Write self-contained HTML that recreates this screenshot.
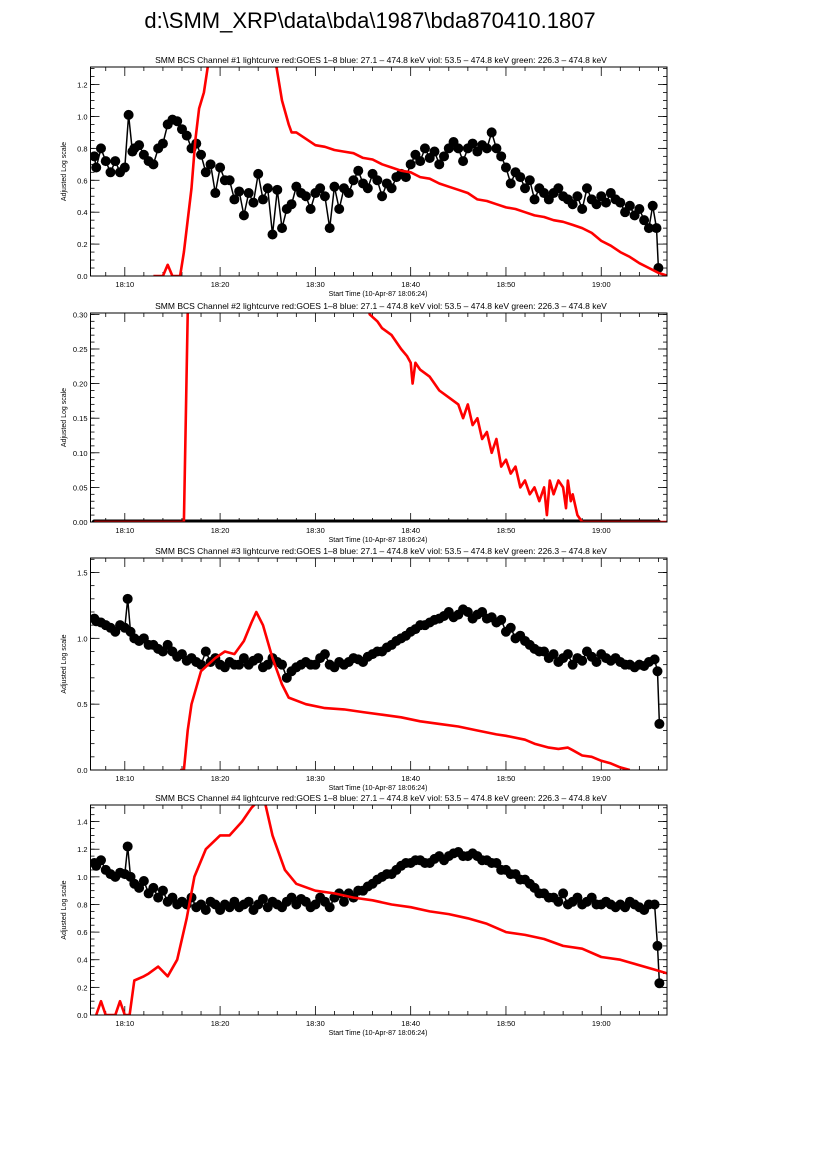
<!DOCTYPE html>
<html><head><meta charset="utf-8"><style>
body{margin:0;background:#fff;}
svg{display:block;font-family:"Liberation Sans",sans-serif;}
</style></head><body>
<svg id="c" width="826" height="1169" viewBox="0 0 826 1169">
<text x="370" y="28" font-size="22" text-anchor="middle">d:\SMM_XRP\data\bda\1987\bda870410.1807</text>
</svg>
<script>
// time axis in minutes after 18:00
const xTickMinutes=[10,20,30,40,50,60];
const xTickLabels=["18:10","18:20","18:30","18:40","18:50","19:00"];

const p1BlackT=[6.8,7,7.5,8,8.5,9,9.5,10,10.4,10.8,11,11.5,12,12.5,13,13.5,14,14.5,15,15.5,16,16.5,17,17.5,18,18.5,19,19.5,20,20.5,21,21.5,22,22.5,23,23.5,24,24.5,25,25.5,26,26.5,27,27.5,28,28.5,29,29.5,30,30.5,31,31.5,32,32.5,33,33.5,34,34.5,35,35.5,36,36.5,37,37.5,38,38.5,39,39.5,40,40.5,41,41.5,42,42.5,43,43.5,44,44.5,45,45.5,46,46.5,47,47.5,48,48.5,49,49.5,50,50.5,51,51.5,52,52.5,53,53.5,54,54.5,55,55.5,56,56.5,57,57.5,58,58.5,59,59.5,60,60.5,61,61.5,62,62.5,63,63.5,64,64.5,65,65.4,65.8,66];
const p1BlackV=[0.75,0.68,0.80,0.72,0.65,0.72,0.65,0.68,1.01,0.78,0.80,0.82,0.76,0.72,0.70,0.80,0.83,0.95,0.98,0.97,0.92,0.88,0.80,0.83,0.76,0.65,0.70,0.52,0.68,0.60,0.60,0.48,0.53,0.38,0.52,0.46,0.64,0.48,0.55,0.26,0.54,0.30,0.42,0.45,0.56,0.52,0.50,0.42,0.52,0.55,0.50,0.30,0.56,0.42,0.55,0.52,0.60,0.66,0.58,0.55,0.64,0.60,0.50,0.58,0.55,0.62,0.64,0.62,0.70,0.76,0.72,0.80,0.74,0.78,0.70,0.75,0.80,0.84,0.80,0.72,0.80,0.83,0.78,0.82,0.80,0.90,0.80,0.75,0.68,0.58,0.65,0.62,0.55,0.60,0.48,0.55,0.52,0.48,0.52,0.55,0.50,0.48,0.45,0.50,0.42,0.55,0.48,0.45,0.50,0.46,0.52,0.48,0.46,0.40,0.44,0.38,0.42,0.35,0.30,0.44,0.30,0.05];
const p1RedT=[13,14,14.5,15,15.8,16.2,16.6,17,17.4,17.8,18.3,18.8,19.5,22,24,25.8,26.5,27.2,27.5,28,29,30,31,32,33,34,35,36,37,38,39,40,41,42,43,44,45,46,47,48,49,50,51,52,53,54,55,56,57,58,59,60,61,62,63,64,65,66,67];
const p1RedV=[0,0,0.07,0,0,0.15,0.35,0.55,0.85,1.05,1.15,1.35,1.8,2.5,2.3,1.35,1.1,0.95,0.90,0.90,0.86,0.82,0.81,0.79,0.78,0.77,0.74,0.73,0.70,0.68,0.66,0.65,0.62,0.61,0.58,0.56,0.54,0.52,0.48,0.47,0.45,0.43,0.42,0.40,0.38,0.37,0.35,0.34,0.32,0.30,0.27,0.22,0.19,0.15,0.12,0.08,0.05,0.02,0];

const p2BlackT=[6.8,8,10,12,14,16,18,20,22,24,26,28,30,32,34,36,38,40,42,44,46,48,50,52,54,56,58,60,62,64,66];
const p2BlackV=[0,0,0,0,0,0,0,0,0,0,0,0,0,0,0,0,0,0,0,0,0,0,0,0,0,0,0,0,0,0,0];
const p2RedT=[6.8,16.2,16.6,17,30,35.7,36.5,37,38,39,39.6,40,40.2,40.5,41,42,43,44,45,45.5,46,46.5,47,47.5,48,48.5,49,49.5,50,50.5,51,51.5,52,52.5,53,53.5,54,54.3,54.6,55,55.5,56,56.3,56.5,56.8,57,57.5,58,60,67];
const p2RedV=[0,0,0.3,0.8,0.9,0.30,0.29,0.28,0.27,0.25,0.24,0.23,0.20,0.23,0.22,0.21,0.19,0.18,0.17,0.15,0.17,0.14,0.15,0.12,0.13,0.10,0.12,0.08,0.09,0.07,0.08,0.05,0.06,0.04,0.05,0.03,0.05,0.01,0.06,0.04,0.06,0.05,0.02,0.06,0.03,0.04,0.01,0,0,0];

const p3BlackT=[6.8,7,7.5,8,8.5,9,9.5,10,10.3,10.6,11,11.5,12,12.5,13,13.5,14,14.5,15,15.5,16,16.5,17,17.5,18,18.5,19,19.5,20,20.5,21,21.5,22,22.5,23,23.5,24,24.5,25,25.5,26,26.5,27,27.5,28,28.5,29,29.5,30,30.5,31,31.5,32,32.5,33,33.5,34,34.5,35,35.5,36,36.5,37,37.5,38,38.5,39,39.5,40,40.5,41,41.5,42,42.5,43,43.5,44,44.5,45,45.5,46,46.5,47,47.5,48,48.5,49,49.5,50,50.5,51,51.5,52,52.5,53,53.5,54,54.5,55,55.5,56,56.5,57,57.5,58,58.5,59,59.5,60,60.5,61,61.5,62,62.5,63,63.5,64,64.5,65,65.6,65.9,66.1];
const p3BlackV=[1.15,1.13,1.12,1.1,1.08,1.05,1.1,1.08,1.3,1.05,
1.0,0.98,1.0,0.95,0.95,0.92,0.9,0.95,0.9,0.86,
0.88,0.83,0.85,0.82,0.8,0.9,0.82,0.85,0.8,0.78,
0.82,0.8,0.8,0.85,0.8,0.83,0.85,0.78,0.8,0.85,
0.82,0.8,0.7,0.75,0.78,0.8,0.82,0.8,0.8,0.85,
0.88,0.8,0.78,0.82,0.8,0.82,0.85,0.84,0.82,0.86,
0.88,0.9,0.9,0.93,0.95,0.98,1.0,1.02,1.05,1.07,
1.1,1.1,1.12,1.14,1.15,1.17,1.2,1.16,1.18,1.22,
1.2,1.15,1.18,1.2,1.15,1.16,1.12,1.14,1.05,1.08,
1.0,1.02,0.98,0.95,0.92,0.9,0.9,0.85,0.88,0.82,
0.85,0.88,0.8,0.85,0.83,0.9,0.86,0.82,0.88,0.85,
0.83,0.85,0.82,0.8,0.8,0.78,0.8,0.79,0.82,
0.84,0.75,0.35];
const p3RedT=[15.8,16.2,16.6,17,18,19.5,20.5,21.5,22.5,23.3,23.8,24.5,25.5,26.5,27.2,29,31,33,35,37,39,41,43,45,47,49,50,52,53,54.5,55.5,56.5,57,58,59,60,61,62,63];
const p3RedV=[0,0,0.3,0.5,0.75,0.85,0.9,0.88,0.98,1.12,1.2,1.1,0.85,0.65,0.55,0.5,0.47,0.46,0.44,0.42,0.4,0.37,0.35,0.33,0.3,0.27,0.26,0.23,0.2,0.17,0.16,0.17,0.15,0.11,0.1,0.07,0.05,0.02,0];

const p4BlackT=[6.8,7,7.5,8,8.5,9,9.5,10,10.3,10.6,11,11.5,12,12.5,13,13.5,14,14.5,15,15.5,16,16.5,17,17.5,18,18.5,19,19.5,20,20.5,21,21.5,22,22.5,23,23.5,24,24.5,25,25.5,26,26.5,27,27.5,28,28.5,29,29.5,30,30.5,31,31.5,32,32.5,33,33.5,34,34.5,35,35.5,36,36.5,37,37.5,38,38.5,39,39.5,40,40.5,41,41.5,42,42.5,43,43.5,44,44.5,45,45.5,46,46.5,47,47.5,48,48.5,49,49.5,50,50.5,51,51.5,52,52.5,53,53.5,54,54.5,55,55.5,56,56.5,57,57.5,58,58.5,59,59.5,60,60.5,61,61.5,62,62.5,63,63.5,64,64.5,65,65.6,65.9,66.1];
const p4BlackV=[1.1,1.08,1.12,1.05,1.02,1.0,1.03,1.02,1.22,1.0,
0.95,0.92,0.97,0.88,0.92,0.85,0.9,0.82,0.85,0.8,
0.82,0.8,0.85,0.78,0.8,0.76,0.82,0.8,0.76,0.8,
0.78,0.82,0.78,0.8,0.82,0.76,0.8,0.84,0.78,0.82,
0.8,0.78,0.82,0.85,0.8,0.84,0.82,0.78,0.8,0.85,
0.82,0.78,0.85,0.88,0.82,0.88,0.85,0.9,0.9,0.93,
0.95,0.98,1.0,1.02,1.02,1.05,1.08,1.1,1.1,1.12,
1.12,1.1,1.1,1.13,1.15,1.12,1.15,1.17,1.18,1.15,
1.15,1.17,1.15,1.12,1.12,1.1,1.1,1.05,1.05,1.02,
1.02,0.98,0.98,0.95,0.92,0.88,0.88,0.85,0.85,0.82,
0.88,0.8,0.82,0.85,0.8,0.82,0.85,0.8,0.8,0.82,
0.8,0.78,0.8,0.78,0.82,0.8,0.78,0.76,0.8,
0.8,0.5,0.23];
const p4RedT=[7,7.5,8,9,9.5,10,10.5,11,12,12.5,13.5,14.5,15.5,16.5,17.3,18.5,20,21,22.3,23.3,24,24.5,25.5,26.8,28,30,32,34,36,38,40,42,44,46,48,50,52,54,56,58,60,62,63,65.5,67];
const p4RedV=[0,0.1,0,0,0.1,0,0,0.25,0.28,0.3,0.35,0.28,0.4,0.7,1.0,1.2,1.3,1.3,1.4,1.5,1.55,1.6,1.3,1.05,0.95,0.9,0.88,0.85,0.83,0.8,0.78,0.75,0.73,0.7,0.66,0.6,0.58,0.55,0.5,0.48,0.42,0.4,0.38,0.33,0.3];

const p1YTicks=[0,0.2,0.4,0.6,0.8,1.0,1.2];
const p2YTicks=[0,0.05,0.10,0.15,0.20,0.25,0.30];
const p3YTicks=[0,0.5,1.0,1.5];
const p4YTicks=[0,0.2,0.4,0.6,0.8,1.0,1.2,1.4];

const NS="http://www.w3.org/2000/svg";
const svg=document.getElementById('c');
const X0=90.5,X1=667,TMIN=6.4,TMAX=66.9;
function xs(t){return X0+(t-TMIN)/(TMAX-TMIN)*(X1-X0);}
function mk(tag,attrs,parent){const e=document.createElementNS(NS,tag);for(const k in attrs)e.setAttribute(k,attrs[k]);(parent||svg).appendChild(e);return e;}

function panel(idx,top,bot,ymax,yticks,ydec,ymin,bt,bv,rt,rv,r,bw){
  const g=mk('g',{});
  
  
  const ys=v=>bot-(v/ymax)*(bot-top);
  const t=mk('text',{x:381,y:top-4,'font-size':8.5,'text-anchor':'middle'},g);
  t.textContent='SMM BCS Channel #'+idx+' lightcurve  red:GOES 1\u20138  blue: 27.1 \u2013 474.8 keV  viol: 53.5 \u2013 474.8 keV  green: 226.3 \u2013 474.8 keV';
  
  
  const cid='clip'+idx;
  const cp=mk('clipPath',{id:cid},g);mk('rect',{x:X0,y:top,width:X1-X0,height:bot-top},cp);
  const step=yticks[1]-yticks[0], minor=step/ymin;
  for(let v=0;v<=ymax+1e-9;v+=minor){const y=ys(v);mk('line',{x1:X0,x2:X0+4,y1:y,y2:y,stroke:'#000','stroke-width':0.8},g);mk('line',{x1:X1,x2:X1-4,y1:y,y2:y,stroke:'#000','stroke-width':0.8},g);}
  yticks.forEach(v=>{const y=ys(v);
    mk('line',{x1:X0,x2:X0+9,y1:y,y2:y,stroke:'#000','stroke-width':0.8},g);
    mk('line',{x1:X1,x2:X1-9,y1:y,y2:y,stroke:'#000','stroke-width':0.8},g);
    const l=mk('text',{x:X0-3,y:y+3,'font-size':7.5,'text-anchor':'end'},g);l.textContent=v.toFixed(ydec);
    
    });
  for(let m=8;m<=66;m+=2){const x=xs(m);const major=xTickMinutes.includes(m);const L=major?9:4;
    mk('line',{x1:x,x2:x,y1:bot,y2:bot-L,stroke:'#000','stroke-width':0.8},g);mk('line',{x1:x,x2:x,y1:top,y2:top+L,stroke:'#000','stroke-width':0.8},g);}
  xTickMinutes.forEach((m,i)=>{const l=mk('text',{x:xs(m),y:bot+11,'font-size':7.5,'text-anchor':'middle'},g);l.textContent=xTickLabels[i];
    
    });
  const xl=mk('text',{x:378,y:bot+20,'font-size':7,'text-anchor':'middle'},g);xl.textContent='Start Time (10-Apr-87 18:06:24)';
  
  
  const yl=mk('text',{x:0,y:0,'font-size':7,'text-anchor':'middle',transform:`translate(66,${(top+bot)/2}) rotate(-90)`},g);yl.textContent='Adjusted Log scale';
  
  
  const inner=mk('g',{'clip-path':`url(#${cid})`},g);
  const rp=rt.map((tt,i)=>xs(tt).toFixed(1)+','+ys(rv[i]).toFixed(1)).join(' ');
  const bp=bt.map((tt,i)=>xs(tt).toFixed(1)+','+ys(bv[i]).toFixed(1)).join(' ');
  const bl=mk('polyline',{points:bp,fill:'none',stroke:'#000','stroke-width':bw},inner);
  
  
  bt.forEach((tt,i)=>{const c=mk('circle',{cx:xs(tt),cy:ys(bv[i]),r:r,fill:'#000'},inner);
    
    });
  const rl=mk('polyline',{points:rp,fill:'none',stroke:'#f00','stroke-width':2.6,'stroke-linejoin':'round'},inner);
  
  
  mk('rect',{x:X0,y:top,width:X1-X0,height:bot-top,fill:'none',stroke:'#000','stroke-width':1},g);
}
panel(1,67,276,1.31,p1YTicks,1,4,p1BlackT,p1BlackV,p1RedT,p1RedV,5,1.5);
panel(2,313,522,0.302,p2YTicks,2,5,p2BlackT,p2BlackV,p2RedT,p2RedV,2.5,5);
panel(3,558,770,1.61,p3YTicks,1,5,p3BlackT,p3BlackV,p3RedT,p3RedV,5,1.5);
panel(4,805,1015,1.52,p4YTicks,1,4,p4BlackT,p4BlackV,p4RedT,p4RedV,5,1.5);
</script>
</body></html>
